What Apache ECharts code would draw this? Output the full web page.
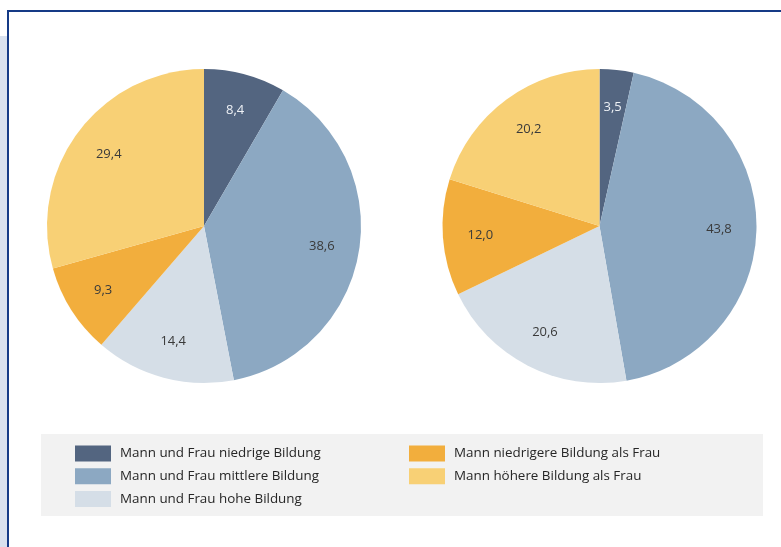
<!DOCTYPE html>
<html>
<head>
<meta charset="utf-8">
<script src="https://cdn.jsdelivr.net/npm/echarts@6/dist/echarts.min.js"></script>
<style>
  html, body { margin: 0; padding: 0; background: #ffffff; }
  #chart { width: 781px; height: 547px; }
</style>
</head>
<body>
<div id="chart"></div>
<script>
// Kategorien (Reihenfolge im Uhrzeigersinn ab 12 Uhr)
const categories = [
  'Mann und Frau niedrige Bildung',
  'Mann und Frau mittlere Bildung',
  'Mann und Frau hohe Bildung',
  'Mann niedrigere Bildung als Frau',
  'Mann höhere Bildung als Frau'
]
// Werte linker und rechter Kreis
const valuesLeft = [8.4, 38.6, 14.4, 9.3, 29.4]
const valuesRight = [3.5, 43.8, 20.6, 12.0, 20.2]

const COLORS = ['#536580', '#8ca8c2', '#d5dee7', '#f2ae3d', '#f8d075']
const LABEL_COLORS = ['#eef1f5', '#3a3a3a', '#3a3a3a', '#3a3a3a', '#3a3a3a']
const FONT = '"Open Sans", "Noto Sans", sans-serif'

const toData = (vals) => categories.map((name, i) => ({
  name,
  value: vals[i],
  itemStyle: { color: COLORS[i] }
}))

const toLabelData = (vals) => categories.map((name, i) => ({
  name,
  value: vals[i],
  itemStyle: { color: 'rgba(0,0,0,0)' },
  label: { color: LABEL_COLORS[i] }
}))

const fmt = (p) => p.value.toFixed(1).replace('.', ',')

// Kreis ohne Beschriftung
const pieSeries = (center, vals) => ({
  type: 'pie',
  center,
  radius: [0, 157],
  startAngle: 90,
  clockwise: true,
  silent: true,
  animation: false,
  label: { show: false },
  labelLine: { show: false },
  itemStyle: { borderWidth: 0 },
  data: toData(vals)
})

// unsichtbarer Ring nur für die Beschriftungen (etwas weiter außen)
const labelSeries = (center, vals) => ({
  type: 'pie',
  center,
  radius: [76, 157],
  startAngle: 90,
  clockwise: true,
  silent: true,
  animation: false,
  label: {
    show: true,
    position: 'inside',
    formatter: fmt,
    fontFamily: FONT,
    fontSize: 13
  },
  labelLine: { show: false },
  emphasis: { disabled: true },
  data: toLabelData(vals)
})

const legendBase = {
  orient: 'vertical',
  itemWidth: 36,
  itemHeight: 16,
  itemGap: 6.8,
  padding: 0,
  icon: 'rect',
  selectedMode: false,
  itemStyle: { borderWidth: 0 },
  textStyle: {
    fontFamily: FONT,
    fontSize: 13.4,
    color: '#262626',
    padding: [2, 0, 0, 4]
  }
}

const chart = echarts.init(document.getElementById('chart'), null, { renderer: 'canvas' })
chart.setOption({
  animation: false,
  backgroundColor: '#ffffff',
  graphic: [
    {
      type: 'rect',
      z: -10,
      shape: { x: 0, y: 36, width: 7, height: 520 },
      style: { fill: '#d9e1ee' }
    },
    {
      type: 'rect',
      z: -10,
      shape: { x: 8, y: 11, width: 800, height: 600 },
      style: { fill: 'none', stroke: '#153a86', lineWidth: 2 }
    },
    {
      type: 'rect',
      z: -5,
      shape: { x: 41, y: 434, width: 722, height: 82 },
      style: { fill: '#f2f2f2' }
    }
  ],
  legend: [
    Object.assign({}, legendBase, { left: 75, top: 445.5, data: categories.slice(0, 3) }),
    Object.assign({}, legendBase, { left: 409, top: 445.5, data: categories.slice(3) })
  ],
  series: [
    pieSeries([204, 226], valuesLeft),
    pieSeries([599.5, 226], valuesRight),
    labelSeries([204, 226], valuesLeft),
    labelSeries([599.5, 226], valuesRight)
  ]
})
</script>
</body>
</html>
